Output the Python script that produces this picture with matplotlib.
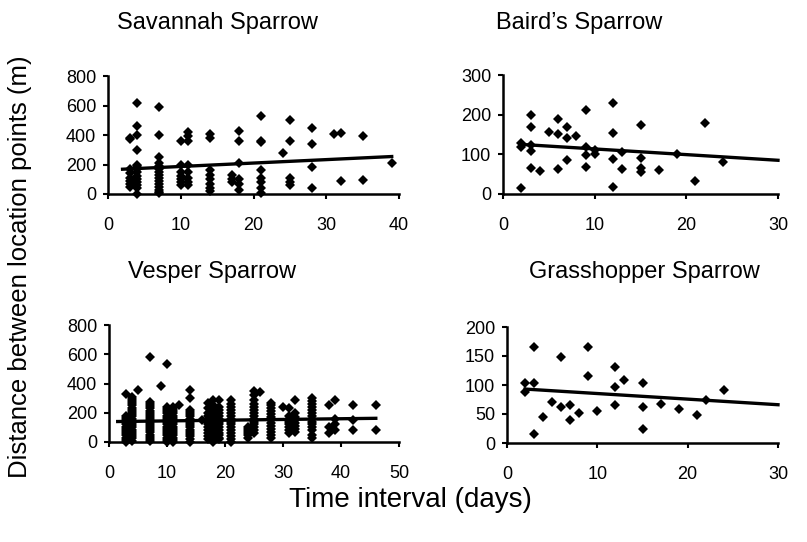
import matplotlib.pyplot as plt
import matplotlib.font_manager as fm

# ---- data ----
sav_days = [3]*8 + [4]*14 + [7]*15 + [10]*7 + [11]*8 + [14]*8 + [17]*3 + [18]*6 + [21]*8 + [24] + [25]*5 + [28]*4 + [31] + [32]*2 + [35]*2 + [39]
sav_dist = [380, 370, 170, 140, 110, 90, 70, 50,
            615, 460, 400, 300, 200, 190, 170, 150, 120, 100, 80, 60, 40, 0,
            590, 400, 250, 210, 190, 170, 150, 130, 110, 90, 70, 50, 30, 15, 5,
            360, 200, 150, 120, 100, 80, 60,
            420, 390, 360, 200, 150, 110, 80, 60,
            410, 380, 160, 130, 100, 70, 40, 20,
            130, 100, 80,
            430, 360, 210, 100, 70, 30,
            530, 360, 350, 160, 110, 80, 40, 10,
            280,
            500, 360, 110, 80, 60,
            450, 340, 180, 40,
            410,
            415, 90,
            390, 95,
            210]
sav_trend_x = [2, 39]
sav_trend_y = [168, 254]

bai_days = [2, 2, 2, 3, 3, 3, 3, 3, 4, 5, 6, 6, 6, 7, 7, 7, 8, 9, 9, 9, 9, 10, 10,
            12, 12, 12, 12, 13, 13, 15, 15, 15, 15, 17, 19, 21, 22, 24]
bai_dist = [128, 118, 14, 199, 170, 123, 109, 66, 58, 156, 189, 151, 63, 168, 140, 86, 146,
            213, 118, 98, 69, 111, 102, 229, 153, 87, 18, 107, 63, 174, 92, 66, 55,
            60, 101, 34, 179, 81]
bai_trend_x = [2, 30]
bai_trend_y = [125, 85]

ves_days = ([3]*14 + [4]*21 + [5] + [7]*20 + [9] + [10]*18 + [11]*17 + [12] + [14]*17 + [16]
            + [17]*12 + [18]*16 + [19]*14 + [21]*15 + [24]*6 + [25]*14 + [26] + [28]*13 + [30]
            + [31]*8 + [32]*8 + [35]*14 + [38]*3 + [39]*4 + [42]*3 + [46]*2)
ves_dist = ([330, 180, 165, 150, 135, 120, 105, 90, 75, 60, 45, 30, 15, 0]
            + [310, 295, 280, 265, 250, 235, 220, 205, 190, 175, 160, 145, 130, 115, 100, 85, 70, 55, 40, 25, 10]
            + [355]
            + [580, 275, 260, 245, 230, 215, 200, 185, 170, 155, 140, 125, 110, 95, 80, 65, 50, 35, 20, 5]
            + [385]
            + [530, 240, 225, 210, 195, 180, 165, 150, 135, 120, 105, 90, 75, 60, 45, 30, 15, 0]
            + [240, 225, 210, 195, 180, 165, 150, 135, 120, 105, 90, 75, 60, 45, 30, 15, 0]
            + [250]
            + [355, 300, 220, 205, 190, 175, 160, 145, 130, 115, 100, 85, 70, 55, 40, 20, 0]
            + [150]
            + [270, 230, 200, 180, 160, 140, 120, 100, 80, 60, 40, 20]
            + [290, 250, 230, 210, 190, 170, 150, 130, 110, 90, 75, 60, 45, 30, 15, 0]
            + [285, 240, 220, 200, 180, 160, 140, 120, 100, 80, 60, 45, 30, 20]
            + [285, 260, 240, 220, 200, 180, 160, 140, 120, 100, 80, 60, 40, 20, 0]
            + [105, 90, 75, 60, 45, 30]
            + [350, 320, 290, 260, 240, 220, 200, 180, 160, 140, 120, 100, 80, 60]
            + [345]
            + [270, 250, 230, 210, 190, 170, 150, 130, 110, 90, 70, 50, 30]
            + [240]
            + [235, 180, 160, 140, 120, 100, 80, 60]
            + [290, 200, 170, 150, 130, 110, 90, 70]
            + [300, 280, 260, 240, 220, 200, 180, 160, 140, 120, 100, 80, 50, 25]
            + [255, 100, 60]
            + [290, 160, 120, 80]
            + [255, 150, 80]
            + [255, 80])
ves_trend_x = [1.5, 46]
ves_trend_y = [140, 162]

gra_days = [2, 2, 3, 3, 3, 4, 5, 6, 6, 7, 7, 8, 9, 9, 10, 12, 12, 12, 13, 15, 15, 15, 17, 19, 21, 22, 24]
gra_dist = [103, 88, 166, 103, 16, 45, 71, 148, 62, 65, 39, 51, 166, 115, 56, 131, 97, 65, 108,
            103, 62, 25, 67, 59, 49, 75, 91]
gra_trend_x = [2, 30]
gra_trend_y = [93, 66]

# ---- fonts ----
names = {f.name for f in fm.fontManager.ttflist}
narrow = 'Liberation Sans Narrow' in names
tick_font = 'Liberation Sans Narrow' if narrow else 'Liberation Sans'
tick_size = 14 if narrow else 13
plt.rcParams['font.family'] = ['Liberation Sans', 'DejaVu Sans']

fig = plt.figure(figsize=(8.07, 5.42), dpi=100)


def panel(rect, days, dist, tx, ty, xmax, xstep, ymax, ystep):
    ax = fig.add_axes(rect)
    ax.plot(days, dist, linestyle='none', marker='D', markersize=5.4,
            color='black', markeredgewidth=0, clip_on=False)
    ax.plot(tx, ty, color='black', linewidth=2.4, clip_on=False)
    ax.set_xlim(0, xmax)
    ax.set_ylim(0, ymax)
    ax.set_xticks(range(0, xmax + 1, xstep))
    ax.set_yticks(range(0, ymax + 1, ystep))
    for s in ['top', 'right']:
        ax.spines[s].set_visible(False)
    for s in ['left', 'bottom']:
        ax.spines[s].set_linewidth(1.8)
    ax.tick_params(axis='x', direction='out', length=3.5, width=1.5, pad=13)
    ax.tick_params(axis='y', direction='out', length=3.5, width=1.5, pad=5)
    for lab in ax.get_xticklabels() + ax.get_yticklabels():
        lab.set_fontfamily(tick_font)
        lab.set_fontsize(tick_size)
    ax.patch.set_alpha(0)
    return ax


W, H = 807, 542


def rect(l, r, t, b):
    return [l / W, 1 - b / H, (r - l) / W, (b - t) / H]


panel(rect(108, 399, 76, 194), sav_days, sav_dist, sav_trend_x, sav_trend_y, 40, 10, 800, 200)
panel(rect(503, 778, 75, 194), bai_days, bai_dist, bai_trend_x, bai_trend_y, 30, 10, 300, 100)
panel(rect(109, 399, 325, 442), ves_days, ves_dist, ves_trend_x, ves_trend_y, 50, 10, 800, 200)
panel(rect(507, 778, 327, 443), gra_days, gra_dist, gra_trend_x, gra_trend_y, 30, 10, 200, 50)

fig.text(217 / W, 1 - 23 / H, 'Savannah Sparrow', fontsize=17, ha='center', va='center')
fig.text(579 / W, 1 - 23 / H, "Baird\u2019s Sparrow", fontsize=17, ha='center', va='center')
fig.text(212 / W, 1 - 272 / H, 'Vesper Sparrow', fontsize=17, ha='center', va='center')
fig.text(644 / W, 1 - 272 / H, 'Grasshopper Sparrow', fontsize=17, ha='center', va='center')
fig.text(20 / W, 1 - 267 / H, 'Distance between location points (m)', fontsize=18.5,
         rotation=90, ha='center', va='center')
fig.text(410 / W, 1 - 500 / H, 'Time interval (days)', fontsize=20, ha='center', va='center')

fig.savefig('out.png', dpi=100)
